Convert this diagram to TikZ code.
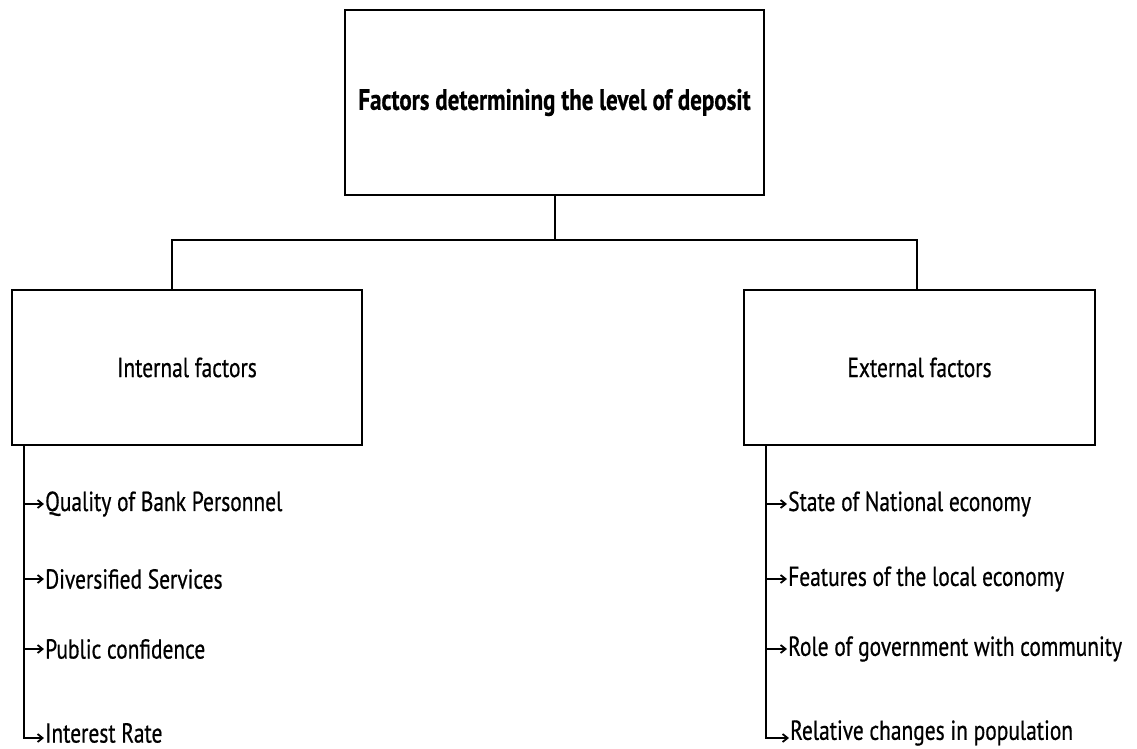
\documentclass[tikz,border=0pt]{standalone}
\usepackage{fontspec}
\setmainfont{PT Sans}[FakeStretch=0.78,FakeBold=0.6]
\usetikzlibrary{arrows.meta,calc}
\begin{document}
\begin{tikzpicture}[x=1pt,y=-1pt,
  box/.style={draw,line width=2.8pt,minimum width=#1,inner sep=0pt},
  link/.style={line width=2pt},
  item/.style={anchor=west,inner sep=1pt,font=\fontsize{27.5}{30}\selectfont},
  arr/.style={line width=2pt,-{Straight Barb[length=5pt,width=8pt,line width=1.8pt]}}
]
\useasboundingbox (0,0) rectangle (1137,749);
\node[box=419pt,minimum height=185pt,font=\fontsize{29.5}{32}\selectfont\bfseries] (top) at (554.5,102.5) {Factors determining the level of deposit};
\node[box=350pt,minimum height=155pt,font=\fontsize{27.5}{30}\selectfont] (int) at (187,367.5) {Internal factors};
\node[box=351pt,minimum height=155pt,font=\fontsize{27.5}{30}\selectfont] (ext) at (919.5,367.5) {External factors};
\coordinate (hub) at (554.5,240);
\coordinate (lj) at (172,240);
\coordinate (rj) at (917,240);
\draw[link] (top.south) -- (hub);
\draw[link] (lj |- int.north) -- (lj) -- (rj) -- (rj |- ext.north);
% left list
\coordinate (lx) at (24,445);
\node[item] (i1) at (44,504) {Quality of Bank Personnel};
\node[item] (i2) at (44,579) {Diversified Services};
\node[item] (i3) at (44,649) {Public confidence};
\node[item] (i4) at (44,733) {Interest Rate};
\draw[arr] (i1.west -| lx) -- (i1.west);
\draw[arr] (i2.west -| lx) -- (i2.west);
\draw[arr] (i3.west -| lx) -- (i3.west);
\draw[arr] (lx) |- ($(i4.west)+(0,5)$);
% right list
\coordinate (rx) at (766,445);
\node[item] (e1) at (787,504) {State of National economy};
\node[item] (e2) at (787,579) {Features of the local economy};
\node[item] (e3) at (787,649) {Role of government with community};
\node[item] (e4) at (789,733) {Relative changes in population};
\draw[arr] (e1.west -| rx) -- (e1.west);
\draw[arr] (e2.west -| rx) -- (e2.west);
\draw[arr] (e3.west -| rx) -- (e3.west);
\draw[arr] (rx) |- ($(e4.west)+(0,5)$);
\end{tikzpicture}
\end{document}
